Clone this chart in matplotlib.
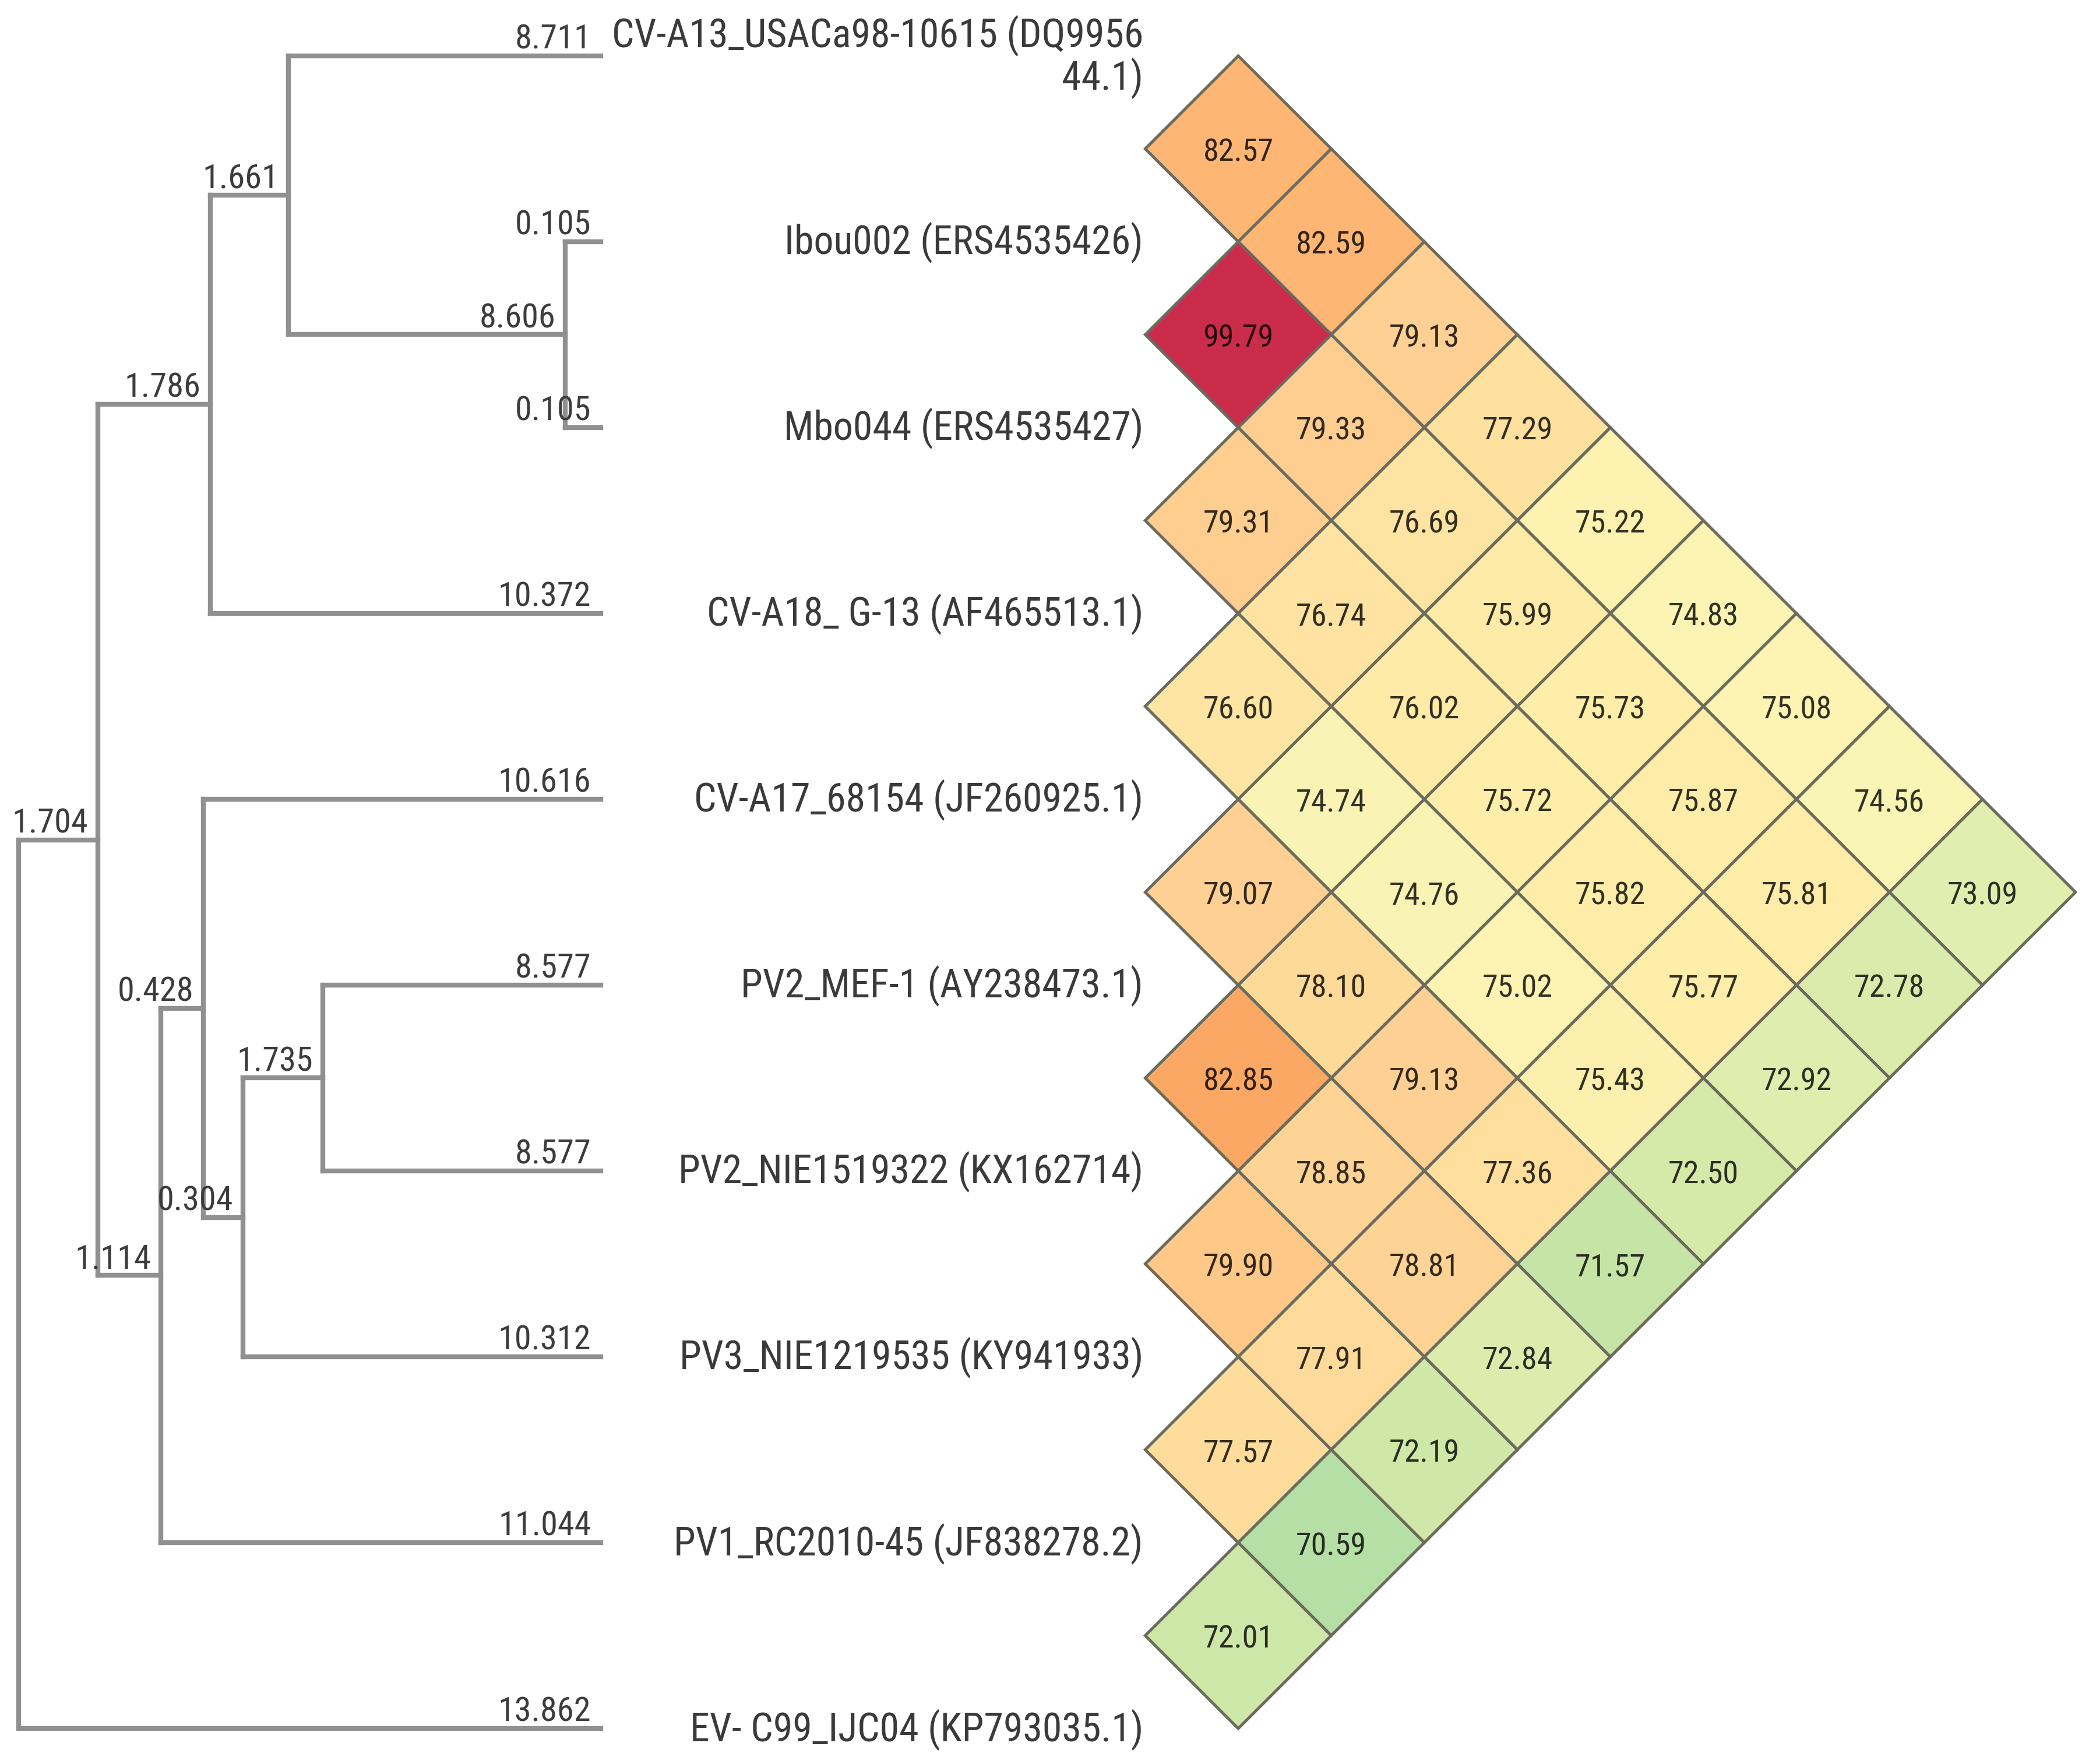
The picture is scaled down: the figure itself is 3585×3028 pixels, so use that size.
import matplotlib
matplotlib.use("Agg")
import matplotlib.pyplot as plt
from matplotlib import font_manager
from matplotlib.colors import LinearSegmentedColormap, Normalize
from matplotlib.patches import Polygon

# taxa, top to bottom
taxa = [
    "CV-A13_USACa98-10615 (DQ9956\n44.1)",
    "Ibou002 (ERS4535426)",
    "Mbo044 (ERS4535427)",
    "CV-A18_ G-13 (AF465513.1)",
    "CV-A17_68154 (JF260925.1)",
    "PV2_MEF-1 (AY238473.1)",
    "PV2_NIE1519322 (KX162714)",
    "PV3_NIE1219535 (KY941933)",
    "PV1_RC2010-45 (JF838278.2)",
    "EV- C99_IJC04 (KP793035.1)",
]

# tree topology (tips are taxon indices)
tree_children = {
    "root": ["A", 9],
    "A": ["B", "C"],
    "B": ["D", 3],
    "D": [0, "E"],
    "E": [1, 2],
    "C": ["F", 8],
    "F": [4, "G"],
    "G": ["H", 7],
    "H": [5, 6],
}

# branch length labels
branch_length = {
    "A": 1.704, "B": 1.786, "D": 1.661, "E": 8.606,
    "C": 1.114, "F": 0.428, "G": 0.304, "H": 1.735,
    0: 8.711, 1: 0.105, 2: 0.105, 3: 10.372, 4: 10.616,
    5: 8.577, 6: 8.577, 7: 10.312, 8: 11.044, 9: 13.862,
}

# drawn depth of each node from the left (in tip-spacing units, as in the figure)
node_depth = {
    "root": 0.10, "A": 0.526, "B": 1.131, "D": 1.550, "E": 3.038,
    "C": 0.864, "F": 1.093, "G": 1.306, "H": 1.735,
}
tip_depth = 3.229

# pairwise identity (%), identity[j][i] for i < j
identity = [
    [],
    [82.57],
    [82.59, 99.79],
    [79.13, 79.33, 79.31],
    [77.29, 76.69, 76.74, 76.60],
    [75.22, 75.99, 76.02, 74.74, 79.07],
    [74.83, 75.73, 75.72, 74.76, 78.10, 82.85],
    [75.08, 75.87, 75.82, 75.02, 79.13, 78.85, 79.90],
    [74.56, 75.81, 75.77, 75.43, 77.36, 78.81, 77.91, 77.57],
    [73.09, 72.78, 72.92, 72.50, 71.57, 72.84, 72.19, 70.59, 72.01],
]

# colour scale anchors
cmap_values = [70.5, 71.5, 72.5, 73.1, 74.5, 75.0, 75.8, 76.7, 77.9, 78.8, 79.9, 82.6, 82.9, 100.0]
cmap_colors = ["#b5dfa4", "#c4e4a6", "#d6eaa9", "#e3eeb0", "#f9f5b5", "#fdf3b2", "#feeda8",
               "#fee3a2", "#fedb9a", "#fed396", "#fdc888", "#fdb672", "#fba763", "#cc2b4b"]

# pick a narrow font if one is installed
available = {f.name for f in font_manager.fontManager.ttflist}
font = "DejaVu Sans"
for name in ["Roboto Condensed", "Liberation Sans Narrow", "DejaVu Sans Condensed", "Roboto"]:
    if name in available:
        font = name
        break
plt.rcParams["font.family"] = [font, "DejaVu Sans"]

W, H, DPI = 3585, 3029, 300
unit = 319.3  # pixels per tip spacing

fig = plt.figure(figsize=(W / DPI, H / DPI), dpi=DPI)
ax = fig.add_axes([0, 0, 1, 1])
ax.set_xlim(0, W / unit)
ax.set_ylim(9 + (H - 2968) / unit, -97 / unit)
ax.axis("off")

# ---- tree ----
ypos = {}


def layout(node):
    if isinstance(node, int):
        ypos[node] = node
    else:
        ypos[node] = sum(layout(c) for c in tree_children[node]) / len(tree_children[node])
    return ypos[node]


layout("root")


def depth(node):
    return tip_depth if isinstance(node, int) else node_depth[node]


line_kw = dict(color="#909090", lw=2.0, solid_capstyle="projecting")
for node, kids in tree_children.items():
    x = depth(node)
    ax.plot([x, x], [ypos[kids[0]], ypos[kids[-1]]], **line_kw)
    for c in kids:
        ax.plot([x, depth(c)], [ypos[c], ypos[c]], **line_kw)
        ax.annotate(f"{branch_length[c]:.3f}", (depth(c), ypos[c]), xytext=(-4, 3.2),
                    textcoords="offset points", ha="right", va="baseline",
                    fontsize=14, color="#3c3c3c")

# ---- taxa labels ----
label_x = 1962 / unit
for i, name in enumerate(taxa):
    ax.text(label_x, i, name, ha="right", va="center", fontsize=16.3,
            color="#3a3a3a", multialignment="right", linespacing=1.05)

# ---- identity heatmap (diamonds) ----
vmin, vmax = cmap_values[0], cmap_values[-1]
cmap = LinearSegmentedColormap.from_list(
    "ident", [((v - vmin) / (vmax - vmin), c) for v, c in zip(cmap_values, cmap_colors)])
norm = Normalize(vmin, vmax)

hm_x0 = 2125 / unit
for j, row in enumerate(identity):
    for i, val in enumerate(row):
        cx = hm_x0 + (j - i - 1) * 0.5
        cy = (i + j) / 2
        diamond = Polygon([(cx - 0.5, cy), (cx, cy - 0.5), (cx + 0.5, cy), (cx, cy + 0.5)],
                          closed=True, facecolor=cmap(norm(val)), edgecolor="#6b6b5e", lw=1.2)
        ax.add_patch(diamond)
        ax.text(cx, cy, f"{val:.2f}", ha="center", va="center_baseline", fontsize=13,
                color=(0, 0, 0, 0.8))

fig.savefig("out.png", dpi=DPI)
